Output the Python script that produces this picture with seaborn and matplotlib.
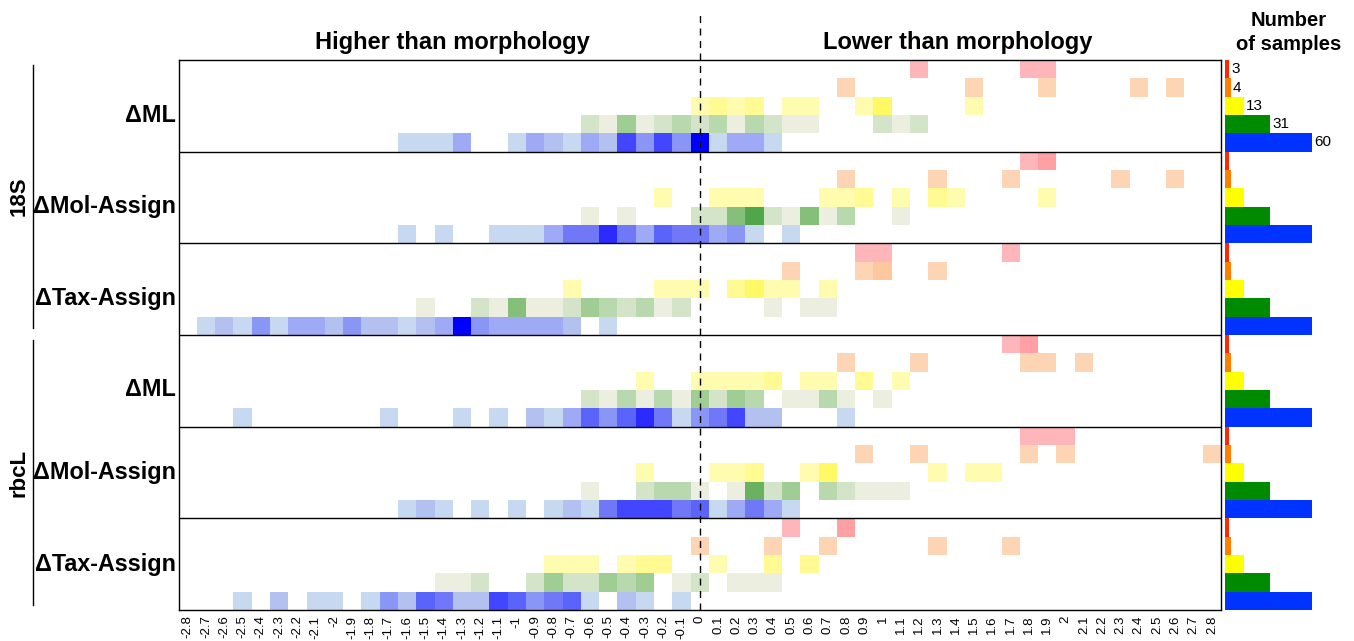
import numpy as np
import pandas as pd
import seaborn as sns
import matplotlib.pyplot as plt
from matplotlib.colors import ListedColormap
from matplotlib.lines import Line2D

# --- data: (difference value, intensity level) per row of each panel ---
ml_18s = {
    'red': [(1.2, 1), (1.8, 1), (1.9, 1)],
    'orange': [(0.8, 1), (1.5, 1), (1.9, 1), (2.4, 1), (2.6, 1)],
    'yellow': [(0, 1), (0.1, 2), (0.2, 1), (0.3, 2), (0.5, 1), (0.6, 1), (0.9, 1), (1.0, 3), (1.5, 1)],
    'green': [(-0.6, 2), (-0.5, 1), (-0.4, 4), (-0.3, 1), (-0.2, 2), (-0.1, 3), (0, 2), (0.1, 3), (0.2, 1),
              (0.3, 3), (0.4, 2), (0.5, 1), (0.6, 1), (1.0, 2), (1.1, 1), (1.2, 2)],
    'blue': [(-1.6, 1), (-1.5, 1), (-1.4, 1), (-1.3, 3), (-1.0, 1), (-0.9, 3), (-0.8, 2), (-0.7, 1), (-0.6, 3),
             (-0.5, 2), (-0.4, 7), (-0.3, 4), (-0.2, 7), (-0.1, 4), (0, 9), (0.1, 1), (0.2, 3), (0.3, 3), (0.4, 1)],
}
mol_18s = {
    'red': [(1.8, 1), (1.9, 2)],
    'orange': [(0.8, 1), (1.3, 1), (1.7, 1), (2.3, 1), (2.6, 1)],
    'yellow': [(-0.2, 1), (0.1, 1), (0.2, 1), (0.3, 1), (0.7, 1), (0.8, 1), (0.9, 2), (1.1, 1), (1.3, 2),
               (1.4, 1), (1.9, 1)],
    'green': [(-0.6, 1), (-0.4, 1), (0, 2), (0.1, 2), (0.2, 5), (0.3, 7), (0.4, 2), (0.5, 1), (0.6, 5),
              (0.7, 1), (0.8, 3), (1.1, 1)],
    'blue': [(-1.6, 1), (-1.4, 1), (-1.1, 1), (-1.0, 1), (-0.9, 1), (-0.8, 3), (-0.7, 5), (-0.6, 5), (-0.5, 8),
             (-0.4, 5), (-0.3, 3), (-0.2, 6), (-0.1, 5), (0, 5), (0.1, 3), (0.2, 4), (0.3, 1), (0.5, 1)],
}
tax_18s = {
    'red': [(0.9, 1), (1.0, 1), (1.7, 1)],
    'orange': [(0.5, 1), (0.9, 1), (1.0, 2), (1.3, 1)],
    'yellow': [(-0.7, 1), (-0.2, 1), (-0.1, 1), (0, 1), (0.2, 2), (0.3, 3), (0.4, 1), (0.5, 1), (0.7, 1)],
    'green': [(-1.5, 1), (-1.2, 2), (-1.1, 1), (-1.0, 5), (-0.9, 1), (-0.8, 1), (-0.7, 2), (-0.6, 4),
              (-0.5, 3), (-0.4, 2), (-0.3, 3), (-0.2, 1), (-0.1, 2), (0.4, 1), (0.6, 1), (0.7, 1)],
    'blue': [(-2.7, 1), (-2.6, 2), (-2.5, 1), (-2.4, 4), (-2.3, 1), (-2.2, 3), (-2.1, 3), (-2.0, 2), (-1.9, 4),
             (-1.8, 2), (-1.7, 2), (-1.6, 1), (-1.5, 2), (-1.4, 3), (-1.3, 9), (-1.2, 4), (-1.1, 3), (-1.0, 3),
             (-0.9, 3), (-0.8, 3), (-0.7, 2), (-0.5, 1)],
}
ml_rbcl = {
    'red': [(1.7, 1), (1.8, 2)],
    'orange': [(0.8, 1), (1.2, 1), (1.8, 1), (1.9, 1), (2.1, 1)],
    'yellow': [(-0.3, 1), (0, 1), (0.1, 1), (0.2, 1), (0.3, 1), (0.4, 2), (0.6, 1), (0.7, 1), (0.9, 2), (1.1, 1)],
    'green': [(-0.6, 2), (-0.5, 1), (-0.4, 3), (-0.3, 1), (-0.2, 3), (-0.1, 1), (0, 4), (0.1, 2), (0.2, 4),
              (0.3, 3), (0.5, 1), (0.6, 1), (0.7, 3), (0.8, 1), (1.0, 1)],
    'blue': [(-2.5, 1), (-1.7, 1), (-1.3, 1), (-1.1, 1), (-0.9, 2), (-0.8, 1), (-0.7, 3), (-0.6, 6), (-0.5, 4),
             (-0.4, 6), (-0.3, 8), (-0.2, 5), (-0.1, 1), (0, 4), (0.1, 5), (0.2, 7), (0.3, 2), (0.4, 2), (0.8, 1)],
}
mol_rbcl = {
    'red': [(1.8, 1), (1.9, 1), (2.0, 1)],
    'orange': [(0.9, 1), (1.2, 1), (1.8, 1), (2.0, 1), (2.8, 1)],
    'yellow': [(-0.3, 1), (0.1, 1), (0.2, 1), (0.3, 2), (0.6, 1), (0.7, 3), (1.3, 1), (1.5, 1), (1.6, 1)],
    'green': [(-0.6, 1), (-0.3, 2), (-0.2, 3), (-0.1, 3), (0, 1), (0.2, 1), (0.3, 6), (0.4, 2), (0.5, 4),
              (0.7, 3), (0.8, 2), (0.9, 1), (1.0, 1), (1.1, 1)],
    'blue': [(-1.6, 1), (-1.5, 2), (-1.4, 1), (-1.2, 1), (-1.0, 1), (-0.8, 1), (-0.7, 2), (-0.6, 1), (-0.5, 5),
             (-0.4, 7), (-0.3, 7), (-0.2, 7), (-0.1, 5), (0, 6), (0.1, 1), (0.2, 3), (0.3, 5), (0.4, 3), (0.5, 1)],
}
tax_rbcl = {
    'red': [(0.5, 1), (0.8, 2)],
    'orange': [(0, 1), (0.4, 1), (0.7, 1), (1.3, 1), (1.7, 1)],
    'yellow': [(-0.8, 1), (-0.7, 1), (-0.6, 1), (-0.4, 1), (-0.3, 2), (-0.2, 2), (0.1, 1), (0.4, 2), (0.6, 2)],
    'green': [(-1.4, 1), (-1.3, 1), (-1.2, 2), (-0.9, 2), (-0.8, 4), (-0.7, 2), (-0.6, 2), (-0.5, 4),
              (-0.4, 3), (-0.3, 4), (-0.1, 1), (0, 2), (0.2, 1), (0.3, 1), (0.4, 1)],
    'blue': [(-2.5, 1), (-2.3, 2), (-2.1, 1), (-2.0, 1), (-1.8, 1), (-1.7, 4), (-1.6, 2), (-1.5, 6), (-1.4, 5),
             (-1.3, 2), (-1.2, 2), (-1.1, 7), (-1.0, 6), (-0.9, 4), (-0.8, 5), (-0.7, 6), (-0.6, 1), (-0.4, 2),
             (-0.3, 1), (-0.1, 1)],
}

panels = [ml_18s, mol_18s, tax_18s, ml_rbcl, mol_rbcl, tax_rbcl]
panel_labels = ['ΔML', 'ΔMol-Assign', 'ΔTax-Assign', 'ΔML', 'ΔMol-Assign', 'ΔTax-Assign']
row_names = ['red', 'orange', 'yellow', 'green', 'blue']
n_samples = [3, 4, 13, 31, 60]
x_values = np.round(np.arange(-28, 29) / 10, 1) + 0.0

# colour ramps (light -> dark) for each row
ramps = {
    'red': ['#FFB6BA', '#FFA0A5'],
    'orange': ['#FDD5B4', '#FDC89E'],
    'yellow': ['#FFFCB0', '#FFFB92', '#FFF966'],
    'green': ['#ECEFE0', '#D3E4C8', '#B8D9AE', '#9FCD94', '#85BF7A', '#6AB160', '#50A64A'],
    'blue': ['#C6D9F0', '#B3C1F0', '#9EAAF5', '#8A96F5', '#7078F7', '#5A64FA', '#4247FF', '#2B2BFF', '#0000FF'],
}
bar_colors = ['#FF2A00', '#FF7F00', '#FFFF00', '#008A00', '#0033FF']

# --- build one matrix of colour codes ---
offsets = {}
all_colors = []
for name in row_names:
    offsets[name] = len(all_colors)
    all_colors += ramps[name]
cmap = ListedColormap(all_colors)

mat = np.full((len(panels) * 5, len(x_values)), np.nan)
for p, panel in enumerate(panels):
    for r, name in enumerate(row_names):
        for x, lvl in panel[name]:
            c = int(round((x + 2.8) * 10))
            mat[p * 5 + r, c] = offsets[name] + lvl - 1

df = pd.DataFrame(mat, columns=[f"{v:g}" for v in x_values])

plt.rcParams['font.family'] = ['Liberation Sans', 'DejaVu Sans']
W, H = 1354, 641
fig = plt.figure(figsize=(W / 100, H / 100), dpi=100)

left, right, top, bottom = 178.5, 1221, 60, 610
ax = fig.add_axes([left / W, 1 - bottom / H, (right - left) / W, (bottom - top) / H])
sns.heatmap(df, ax=ax, cmap=cmap, vmin=-0.5, vmax=len(all_colors) - 0.5, cbar=False,
            xticklabels=True, yticklabels=False)
ax.tick_params(axis='x', labelsize=9.5, rotation=90, length=0, pad=4)
ax.set_xlabel('')
ax.set_ylabel('')
for s in ax.spines.values():
    s.set_visible(True)
    s.set_linewidth(1)
    s.set_color('black')
for k in range(1, 6):
    ax.axhline(5 * k, color='black', lw=1)
ax.axvline(28.5, ymin=0, ymax=(bottom - 15) / (bottom - top), color='black', ls=(0, (5, 4)),
           lw=1, clip_on=False)

# row labels
label_y = [116, 207, 298, 389, 473, 565]
for lab, yp in zip(panel_labels, label_y):
    fig.text(176 / W, 1 - yp / H, lab, ha='right', va='center', fontsize=16.8, fontweight='bold')

# gene group labels and brackets
for lab, y1, y2 in [('18S', 65, 328), ('rbcL', 340, 605)]:
    fig.add_artist(Line2D([33 / W, 33 / W], [1 - y1 / H, 1 - y2 / H], color='black', lw=1,
                          transform=fig.transFigure))
    fig.text(19 / W, 1 - (y1 + y2) / 2 / H, lab, rotation=90, ha='center', va='center',
             fontsize=16, fontweight='bold')

fig.text(452 / W, 1 - 42 / H, 'Higher than morphology', ha='center', va='center',
         fontsize=17, fontweight='bold')
fig.text(958 / W, 1 - 42 / H, 'Lower than morphology', ha='center', va='center',
         fontsize=17, fontweight='bold')

# number of samples bars
bx0, bx1 = 1225, 1354
bax = fig.add_axes([bx0 / W, 1 - bottom / H, (bx1 - bx0) / W, (bottom - top) / H])
counts = np.tile(n_samples, len(panels))
cols = bar_colors * len(panels)
bax.barh(np.arange(len(counts)) + 0.5, counts, height=1.0, color=cols)
bax.set_ylim(len(counts), 0)
bax.set_xlim(0, 88.5)
bax.axis('off')
for i, n in enumerate(n_samples):
    bax.text(n + 1.5, i + 0.5, str(n), va='center', ha='left', fontsize=11)

fig.text(1289 / W, 1 - 20 / H, 'Number', ha='center', va='center', fontsize=14.5, fontweight='bold')
fig.text(1289 / W, 1 - 44 / H, 'of samples', ha='center', va='center', fontsize=14.5, fontweight='bold')

fig.savefig('out.png', dpi=100)
